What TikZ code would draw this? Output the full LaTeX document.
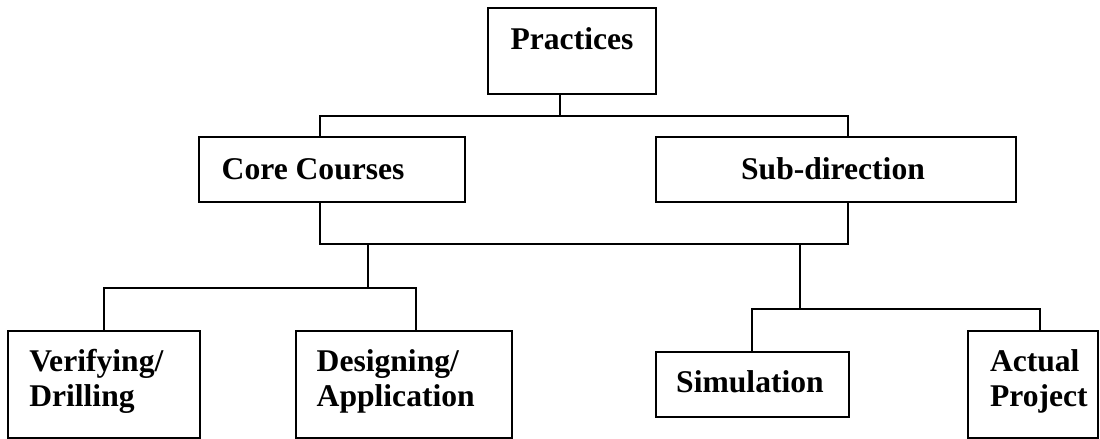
\documentclass[tikz,border=0pt]{standalone}
\usepackage{fontspec}
\setmainfont{Liberation Serif}
\begin{document}
\begin{tikzpicture}[x=0.5pt,y=-0.5pt,
  box/.style={draw,line width=1pt,inner sep=0pt,outer sep=0pt,rectangle},
  txt/.style={inner sep=0pt,outer sep=0pt,font=\fontsize{15.8}{17.5}\selectfont\bfseries},
  link/.style={line width=1pt}]
\useasboundingbox (0,0) rectangle (1100,439);
% boxes
\node[box,minimum width=84pt,minimum height=43.15pt] (P) at (572,51.15) {};
\node[box,minimum width=132.85pt,minimum height=32.2pt] (C) at (332.15,169.5) {};
\node[box,minimum width=180.15pt,minimum height=32.2pt] (S) at (836.15,169.5) {};
\node[box,minimum width=96pt,minimum height=53.8pt] (V) at (104.3,384.5) {};
\node[box,minimum width=108pt,minimum height=53.8pt] (D) at (404,384.5) {};
\node[box,minimum width=96.5pt,minimum height=32.65pt] (M) at (752.5,384.65) {};
\node[box,minimum width=64.85pt,minimum height=53.8pt] (A) at (1033.15,384.5) {};
% texts
\node[txt,anchor=base] (tP) at (572,49.3) {Practices};
\node[txt,anchor=base west] (tC) at (221.7,179.5) {Core Courses};
\node[txt,anchor=base] (tS) at (833,179) {Sub-direction};
\node[txt,anchor=base west] (tV1) at (29.3,371.7) {Verifying/};
\node[txt,anchor=base west] (tV2) at (29.3,406.7) {Drilling};
\node[txt,anchor=base west] (tD1) at (316.7,371.7) {Designing/};
\node[txt,anchor=base west] (tD2) at (316.7,406.7) {Application};
\node[txt,anchor=base] (tM) at (750,392.7) {Simulation};
\node[txt,anchor=base west] (tA1) at (990,371.5) {Actual};
\node[txt,anchor=base west] (tA2) at (990,406.5) {Project};
% junctions
\coordinate (j1) at (560,115.7);
\coordinate (j2) at (368.3,244.3);
\coordinate (j3) at (800.3,244.3);
\coordinate (j4) at (368.3,288.3);
\coordinate (j5) at (800.3,309.3);
\coordinate (cx) at (320,0);
\coordinate (sx) at (847.5,0);
\coordinate (vx) at (104.3,0);
\coordinate (dx) at (416,0);
\coordinate (mx) at (752.3,0);
\coordinate (ax) at (1040.3,0);
% connectors
\draw[link] (P.south -| j1) -- (j1);
\draw[link] (C.north -| cx) -- (cx |- j1) -- (sx |- j1) -- (S.north -| sx);
\draw[link] (C.south -| cx) -- (cx |- j2) -- (sx |- j2) -- (S.south -| sx);
\draw[link] (j2) -- (j4);
\draw[link] (V.north -| vx) -- (vx |- j4) -- (dx |- j4) -- (D.north -| dx);
\draw[link] (j3) -- (j5);
\draw[link] (M.north -| mx) -- (mx |- j5) -- (ax |- j5) -- (A.north -| ax);
\end{tikzpicture}
\end{document}
